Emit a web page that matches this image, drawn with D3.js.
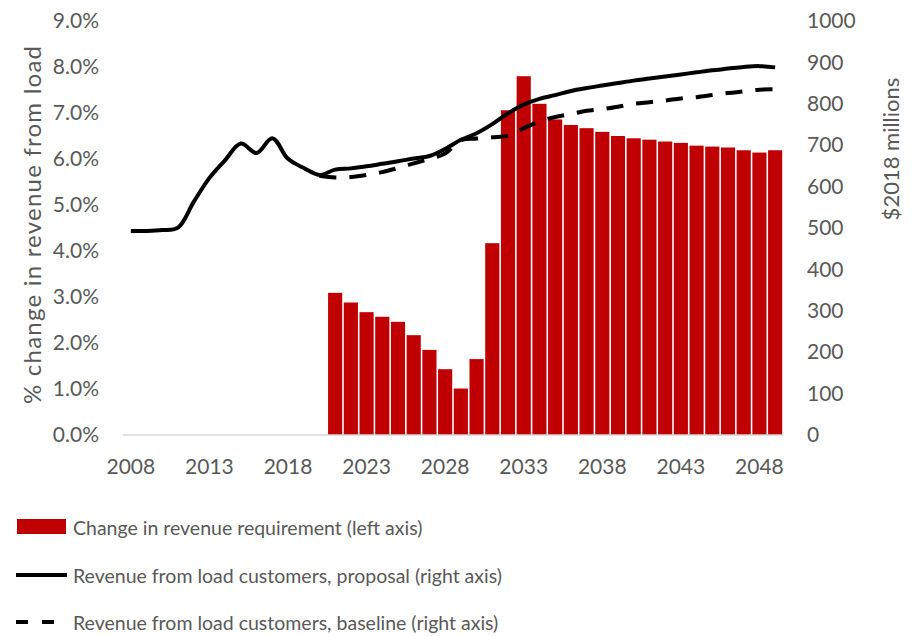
<!DOCTYPE html>
<html>
<head>
<meta charset="utf-8">
<script src="https://cdn.jsdelivr.net/npm/d3@7/dist/d3.min.js"></script>
<style>
  html, body { margin: 0; padding: 0; background: #fff; }
  svg { display: block; }
  text { font-family: Lato, "Open Sans", sans-serif; fill: #595959; }
</style>
</head>
<body>
<svg id="chart" width="915" height="636"></svg>
<script>
// Years on the category axis
const years = d3.range(2008, 2050);
const tickYears = [2008, 2013, 2018, 2023, 2028, 2033, 2038, 2043, 2048];

// Change in revenue requirement (% , left axis), 2021-2049
const barYears = d3.range(2021, 2050);
const barValues = [3.09, 2.88, 2.67, 2.57, 2.46, 2.17, 1.85, 1.43, 1.01, 1.65,
                   4.17, 7.06, 7.80, 7.20, 6.86, 6.74, 6.67, 6.59, 6.50, 6.45,
                   6.42, 6.38, 6.35, 6.29, 6.27, 6.25, 6.19, 6.14, 6.19];

// Revenue from load customers, proposal ($2018 millions, right axis), 2008-2049
const proposalValues = [493, 493, 495, 501, 563, 621, 664, 704, 681, 717,
                        667, 645, 628, 641, 644, 649, 655, 661, 668, 674,
                        691, 713, 729, 751, 777, 798, 812, 821, 831, 838,
                        844, 850, 856, 861, 866, 871, 876, 881, 885, 889,
                        891, 888];

// Revenue from load customers, baseline ($2018 millions, right axis), 2020-2049
const baselineYears = d3.range(2020, 2050);
const baselineValues = [626, 622, 623, 628, 635, 645, 656, 667, 680, 712,
                        716, 719, 723, 741, 757, 768, 775, 783, 787, 793,
                        800, 804, 808, 813, 816, 821, 826, 830, 834, 835];

// Axis tick values
const leftTicks = d3.range(0, 9.01, 1);
const rightTicks = d3.range(0, 1001, 100);

// Legend entries
const legendLabels = [
  "Change in revenue requirement (left axis)",
  "Revenue from load customers, proposal (right axis)",
  "Revenue from load customers, baseline (right axis)"
];

const svg = d3.select("#chart");
const plot = { left: 123, right: 783, top: 21, bottom: 435 };
const textColor = "#595959";
const barColor = "#C00000";

const x = d3.scaleBand().domain(years).range([plot.left, plot.right]).paddingInner(0.1).paddingOuter(0.05);
const xc = yr => x(yr) + x.bandwidth() / 2;
const yLeft = d3.scaleLinear().domain([0, 9]).range([plot.bottom, plot.top]);
const yRight = d3.scaleLinear().domain([0, 1000]).range([plot.bottom, plot.top]);

// Bars
svg.append("g")
  .selectAll("rect")
  .data(barYears.map((yr, i) => ({ yr, v: barValues[i] })))
  .join("rect")
  .attr("x", d => x(d.yr))
  .attr("width", x.bandwidth())
  .attr("y", d => yLeft(d.v))
  .attr("height", d => yLeft(0) - yLeft(d.v))
  .attr("fill", barColor);

// Category axis line
svg.append("line")
  .attr("x1", plot.left).attr("x2", plot.right)
  .attr("y1", plot.bottom).attr("y2", plot.bottom)
  .attr("stroke", "#d9d9d9").attr("stroke-width", 1.5);

// Lines
const line = d3.line().x(d => xc(d.yr)).y(d => yRight(d.v)).curve(d3.curveCatmullRom.alpha(0.5));

svg.append("path")
  .datum(years.map((yr, i) => ({ yr, v: proposalValues[i] })))
  .attr("d", line)
  .attr("fill", "none")
  .attr("stroke", "#000")
  .attr("stroke-width", 4)
  .attr("stroke-linejoin", "round");

svg.append("path")
  .datum(baselineYears.map((yr, i) => ({ yr, v: baselineValues[i] })))
  .attr("d", line)
  .attr("fill", "none")
  .attr("stroke", "#000")
  .attr("stroke-width", 4)
  .attr("stroke-dasharray", "17,13");

// Left axis
const leftAxis = d3.axisLeft(yLeft).tickValues(leftTicks).tickFormat(d => d.toFixed(1) + "%").tickSize(0).tickPadding(0);
const gL = svg.append("g").attr("transform", "translate(99,0)").call(leftAxis);
gL.select(".domain").remove();
gL.selectAll("text").style("font-size", "21px").attr("fill", textColor);

// Right axis
const rightAxis = d3.axisRight(yRight).tickValues(rightTicks).tickFormat(d3.format("d")).tickSize(0).tickPadding(0);
const gR = svg.append("g").attr("transform", "translate(807,0)").call(rightAxis);
gR.select(".domain").remove();
gR.selectAll("text").style("font-size", "21px").attr("fill", textColor);

// Bottom axis
const bottomAxis = d3.axisBottom(x).tickValues(tickYears).tickSize(0).tickPadding(0);
const gB = svg.append("g").attr("transform", "translate(0,459)").call(bottomAxis);
gB.select(".domain").remove();
gB.selectAll("text").style("font-size", "21px").attr("fill", textColor);

// Axis titles
svg.append("text")
  .attr("transform", "translate(31,225) rotate(-90)")
  .attr("text-anchor", "middle").attr("dominant-baseline", "central")
  .attr("textLength", 358).attr("lengthAdjust", "spacing")
  .style("font-size", "24px")
  .text("% change in revenue from load");

svg.append("text")
  .attr("transform", "translate(890,149) rotate(-90)")
  .attr("text-anchor", "middle").attr("dominant-baseline", "central")
  .style("font-size", "22px")
  .text("$2018 millions");

// Legend
const legendY = [527, 575, 622];
const lg = svg.append("g");
lg.append("rect").attr("x", 17).attr("y", 519).attr("width", 49).attr("height", 15).attr("fill", barColor);
lg.append("line").attr("x1", 16).attr("x2", 67).attr("y1", legendY[1]).attr("y2", legendY[1])
  .attr("stroke", "#000").attr("stroke-width", 4);
lg.append("line").attr("x1", 16).attr("x2", 67).attr("y1", legendY[2]).attr("y2", legendY[2])
  .attr("stroke", "#000").attr("stroke-width", 4).attr("stroke-dasharray", "12,14");
lg.selectAll("text.leg")
  .data(legendLabels)
  .join("text")
  .attr("class", "leg")
  .attr("x", 73)
  .attr("y", (d, i) => legendY[i])
  .attr("dominant-baseline", "central")
  .style("font-size", "19.5px")
  .text(d => d);
</script>
</body>
</html>
